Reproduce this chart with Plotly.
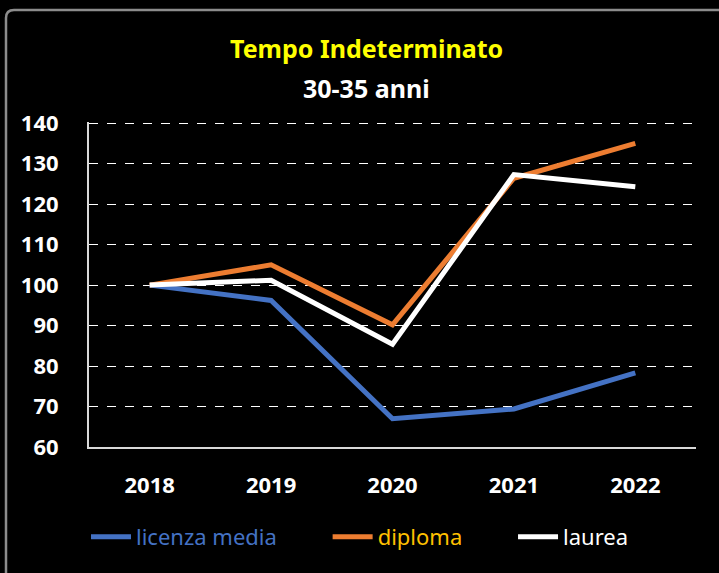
import plotly.graph_objects as go

years = ["2018", "2019", "2020", "2021", "2022"]
licenza_media = [100, 96.2, 67.0, 69.4, 78.3]
diploma = [100, 105.0, 90.2, 126.4, 135.0]
laurea = [100, 101.2, 85.4, 127.3, 124.3]
series_names = ["licenza media", "diploma", "laurea"]
y_ticks = [60, 70, 80, 90, 100, 110, 120, 130, 140]

FONT = "Noto Sans"
L, R, T, B = 89, 23, 122, 126
W, H = 719, 573
pw, ph = W - L - R, H - T - B


def px(x):
    return (x - L) / pw


def py(y):
    return (H - B - y) / ph


colors = ["#4472C4", "#ED7D31", "#FFFFFF"]
text_colors = ["#4472C4", "#FFC000", "#FFFFFF"]
pads = [8, 8, 0]

fig = go.Figure()
for name, vals, c, tc, p in zip(series_names, [licenza_media, diploma, laurea], colors, text_colors, pads):
    fig.add_trace(go.Scatter(
        x=years, y=vals, mode="lines",
        name=f"<span style='color:{tc}'>{name}</span>" + "&nbsp;" * p,
        line=dict(color=c, width=5), hoverinfo="skip",
    ))

fig.update_layout(
    width=W, height=H,
    paper_bgcolor="#000000", plot_bgcolor="#000000",
    margin=dict(l=L, r=R, t=T, b=B, autoexpand=False),
    font=dict(family=FONT, color="#FFFFFF"),
    showlegend=True,
    legend=dict(orientation="h", x=px(86), xanchor="left", y=py(537), yanchor="middle",
                font=dict(family=FONT, size=22), bgcolor="rgba(0,0,0,0)",
                itemwidth=40, tracegroupgap=0),
    xaxis=dict(type="category", range=[-0.5, 4.5], showgrid=False, zeroline=False,
               showline=True, linecolor="#D9D9D9", linewidth=2, ticks="",
               tickfont=dict(family=FONT, size=22, color="#FFFFFF", weight="bold"),
               ticklabelstandoff=18, fixedrange=True),
    yaxis=dict(range=[60, 140.3], tickvals=y_ticks, showgrid=True, gridcolor="#FFFFFF",
               gridwidth=1, griddash="dash", zeroline=False,
               showline=True, linecolor="#D9D9D9", linewidth=2, ticks="",
               tickfont=dict(family=FONT, size=22, color="#FFFFFF", weight="bold"),
               ticklabelstandoff=24, fixedrange=True),
    annotations=[
        dict(text="<b>Tempo Indeterminato</b>", xref="paper", yref="paper", x=px(366), y=py(48),
             xanchor="center", yanchor="middle", showarrow=False,
             font=dict(family=FONT, size=25, color="#FFFF00")),
        dict(text="<b>30-35 anni</b>", xref="paper", yref="paper", x=px(366), y=py(88),
             xanchor="center", yanchor="middle", showarrow=False,
             font=dict(family=FONT, size=25, color="#FFFFFF")),
    ],
)

x0, yt, yb, xr = px(6), py(10), py(573), px(719)
rx, ry = 8 / pw, 8 / ph
fig.add_shape(type="path", xref="paper", yref="paper",
              path=f"M {x0},{yb} L {x0},{yt - ry} Q {x0},{yt} {x0 + rx},{yt} L {xr},{yt}",
              line=dict(color="#8C8C8C", width=2.5), layer="above")

fig.write_html("out.html", config={"displayModeBar": False},
               post_script="document.body.style.margin='0';document.body.style.background='#000';")
